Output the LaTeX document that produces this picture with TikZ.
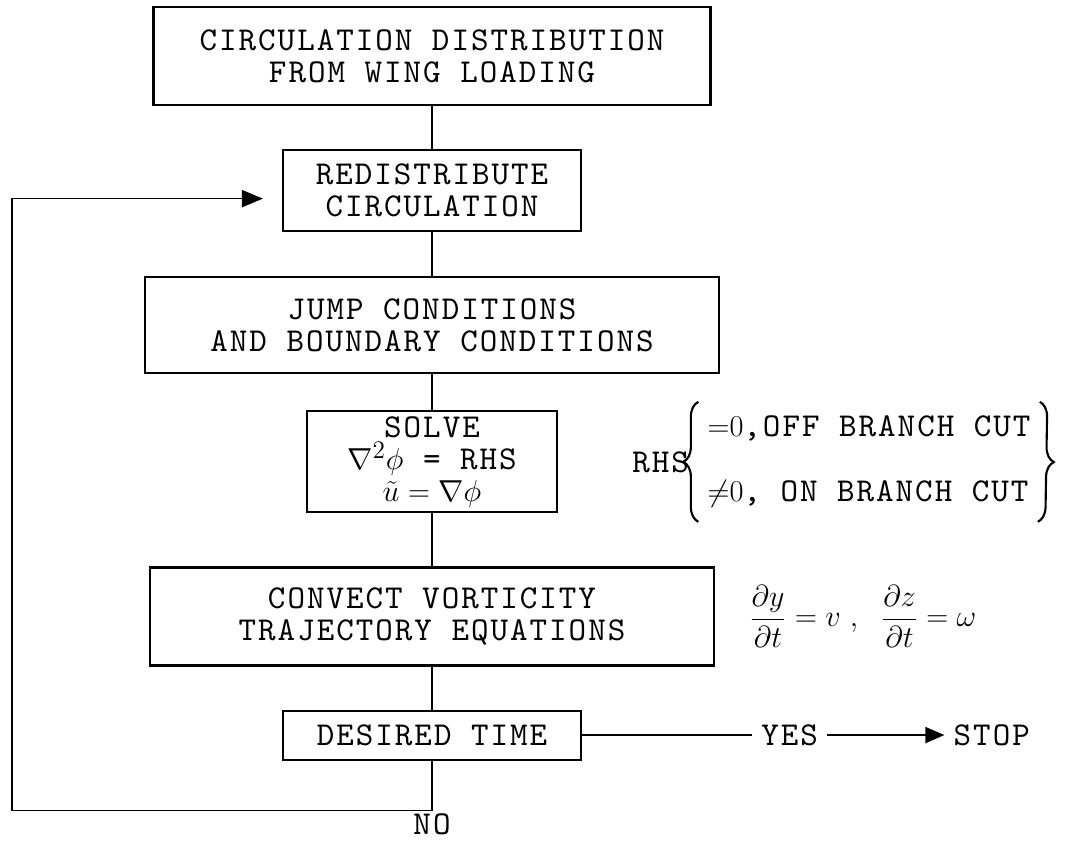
\documentclass[tikz,border=0pt]{standalone}
\usepackage{amsmath,amssymb}
\usepackage{fontspec}
\newfontfamily\typer{lmmono10-regular}[Extension=.otf, LetterSpace=6]
\usepackage{tikz}
\usetikzlibrary{arrows.meta, positioning, decorations.pathreplacing}

\begin{document}
\begin{tikzpicture}[
    node distance = 0.9cm and 0.6cm,
    box/.style = {
        rectangle, draw=black, line width=1.2pt,
        font=\typer\fontsize{19}{18.2}\selectfont,
        align=center, inner sep=2pt
    },
    lbl/.style  = {font=\typer\fontsize{19}{18}\selectfont, inner sep=0.18cm},
    link/.style = {line width=1pt},
    arr/.style  = {-{Triangle[length=0.38cm, width=0.32cm]}, line width=1pt},
    brc/.style  = {decorate, decoration={brace, amplitude=0.3cm}, line width=1.2pt}
]
\useasboundingbox (-8.64,1.12) rectangle (12.9,-15.76);

%% Column Nodes
\node[box, minimum width=11.14cm, minimum height=1.96cm] (circ) {CIRCULATION DISTRIBUTION\\FROM WING LOADING};
\node[box, below=0.86cm of circ, minimum width=5.96cm, minimum height=1.62cm] (redis) {REDISTRIBUTE\\CIRCULATION};
\node[box, below=0.88cm of redis, minimum width=11.48cm, minimum height=1.92cm] (jump) {JUMP CONDITIONS\\AND BOUNDARY CONDITIONS};
\node[box, below=0.72cm of jump, minimum width=5.0cm, minimum height=2.02cm] (solve) {SOLVE\\$\nabla^2\phi$ = RHS\\$\tilde{u}=\nabla\phi$};
\node[box, below=1.06cm of solve, minimum width=11.28cm, minimum height=1.96cm] (conv) {CONVECT VORTICITY\\TRAJECTORY EQUATIONS};
\node[box, below=0.86cm of conv, minimum width=5.96cm, minimum height=0.98cm] (dtime) {DESIRED TIME};

%% Side notes
\node[lbl, right=1.3cm of solve] (rhs) {RHS};
\node[lbl, anchor=west] (offcut) at ([yshift=0.66cm]rhs.east) {${=}0$,OFF BRANCH CUT};
\node[lbl, anchor=west] (oncut) at ([yshift=-0.64cm]rhs.east) {${\neq}0$, ON BRANCH CUT};
\draw[brc] ([yshift=-0.56cm]oncut.west) -- ([yshift=0.54cm]offcut.west);
\draw[brc] ([yshift=0.54cm]offcut.east) -- ([yshift=-0.56cm]oncut.east);

\node[lbl, right=0.5cm of conv, font=\fontsize{17}{20}\selectfont] (traj) {$\dfrac{\partial y}{\partial t}=v\ ,\ \ \dfrac{\partial z}{\partial t}=\omega$};

\node[lbl, right=3.4cm of dtime] (yes) {YES};
\node[lbl, right=2.34cm of yes] (stop) {STOP};

%% Loop back
\coordinate[below=1.0cm of dtime] (nobend);
\coordinate (farleft) at (-8.4,0);
\node[lbl, anchor=north, inner sep=0.06cm, text depth=0pt] (no) at (nobend) {NO};

%% Arrows
\draw[link] (circ) -- (redis);
\draw[link] (redis) -- (jump);
\draw[link] (jump) -- (solve);
\draw[link] (solve) -- (conv);
\draw[link] (conv) -- (dtime);
\draw[link] (dtime) -- (yes);
\draw[arr] (yes) -- (stop);
\draw[arr, -{Triangle[length=0.42cm, width=0.34cm]}, shorten >=0.38cm] (dtime) -- (nobend) -- (nobend -| farleft) |- ([yshift=-0.16cm]redis.west);

\end{tikzpicture}
\end{document}
